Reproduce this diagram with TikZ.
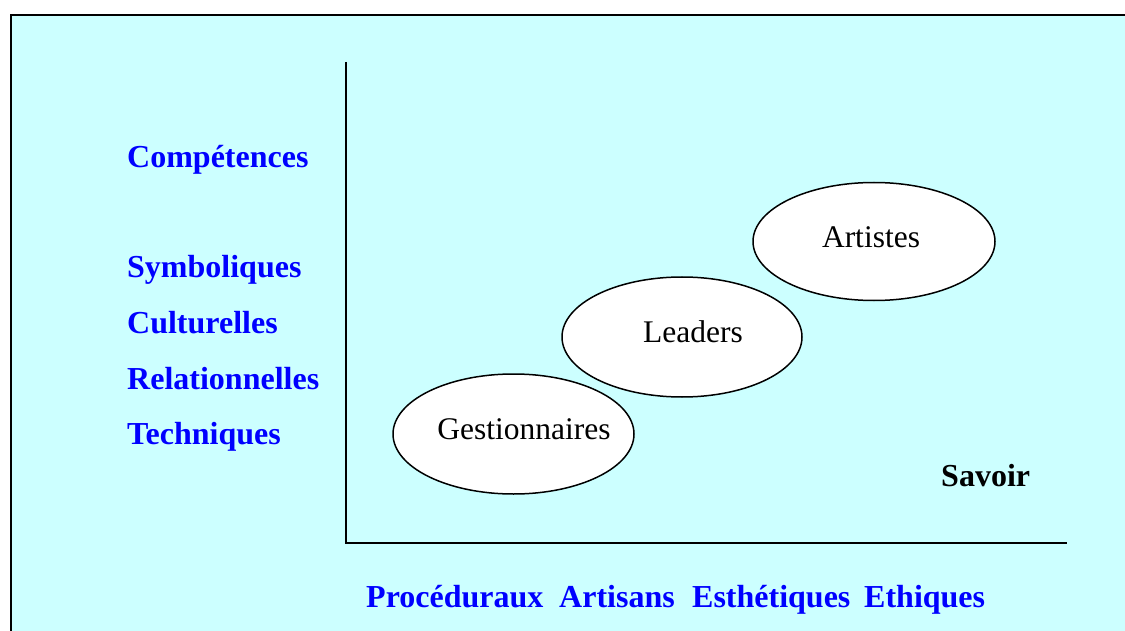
\documentclass[tikz,border=0pt]{standalone}
\usepackage{fontspec}
\setmainfont{Liberation Serif}
\usetikzlibrary{shapes.geometric}
\definecolor{bgcyan}{RGB}{204,255,255}
\definecolor{lblue}{RGB}{0,0,255}
\begin{document}
\begin{tikzpicture}[x=1pt,y=-1pt,
  comp/.style={anchor=base west,inner sep=0pt,text=lblue,font=\bfseries\fontsize{32}{38}\selectfont},
  blob/.style={ellipse,draw=black,line width=1.5pt,fill=white,inner sep=0pt},
  blobtext/.style={anchor=base,inner sep=0pt,font=\fontsize{31.5}{38}\selectfont},
  axis/.style={draw=black,line width=2.2pt}]
\useasboundingbox (0,0) rectangle (1125,631);
\fill[bgcyan] (11,15) rectangle (1130,640);
\draw[line width=2pt] (11,640) -- (11,15) -- (1130,15);
% axes
\coordinate (ytop) at (346,62);
\coordinate (origin) at (346,543);
\coordinate (xend) at (1067,543);
\draw[axis] (ytop) -- (origin) -- (xend);
% ellipses
\node[blob,minimum width=241pt,minimum height=120pt] (gest) at (513.5,434) {};
\node[blob,minimum width=240pt,minimum height=120pt] (lead) at (682,337) {};
\node[blob,minimum width=242pt,minimum height=118pt] (art) at (874,241.5) {};
\node[blobtext] (gestt) at (524,439) {Gestionnaires};
\node[blobtext] (leadt) at (693,342) {Leaders};
\node[blobtext] (artt) at (871,248) {Artistes};
% left labels
\node[comp] (c1) at (127,168) {Compétences};
\node[comp] (c2) at (127,278) {Symboliques};
\node[comp] (c3) at (127,333) {Culturelles};
\node[comp] (c4) at (127,389) {Relationnelles};
\node[comp] (c5) at (127,444) {Techniques};
% savoir
\node[comp,text=black] (sav) at (941,486) {Savoir};
% bottom labels
\node[comp] (b1) at (366,607) {Procéduraux};
\node[comp] (b2) at (559,607) {Artisans};
\node[comp] (b3) at (692,607) {Esthétiques};
\node[comp] (b4) at (864,607) {Ethiques};
\end{tikzpicture}
\end{document}
